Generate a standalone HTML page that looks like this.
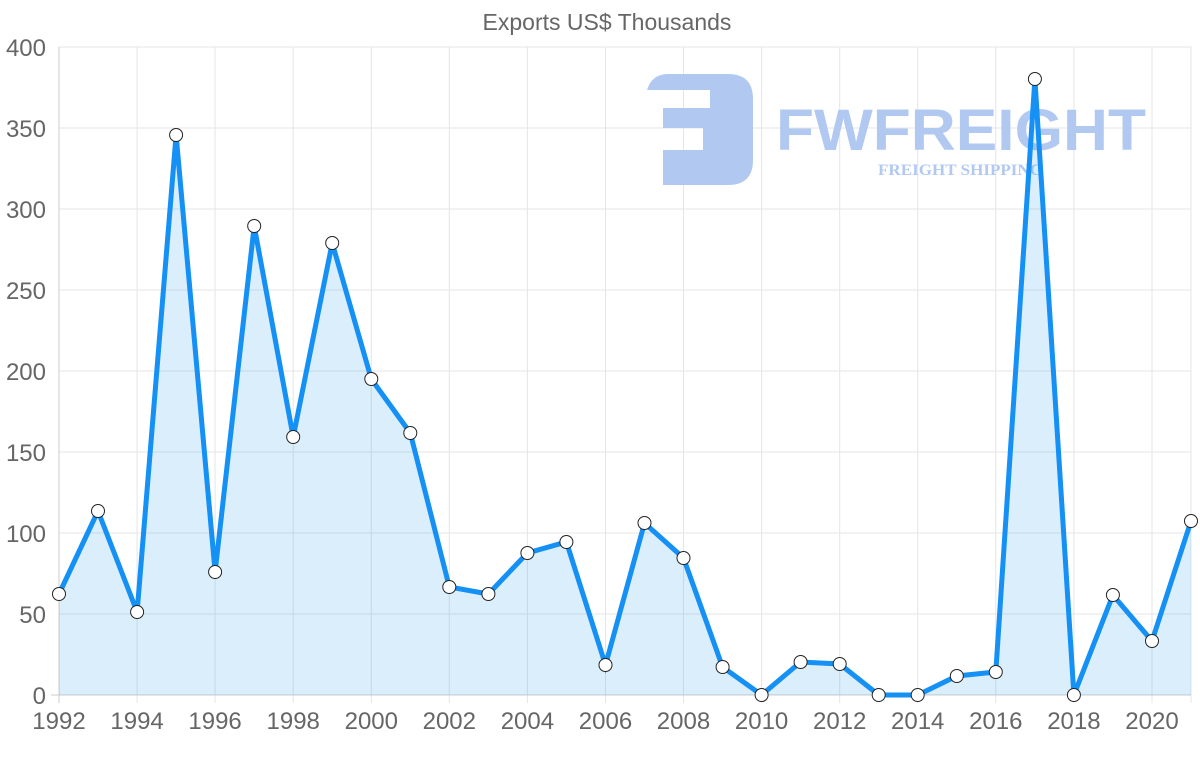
<!DOCTYPE html>
<html><head><meta charset="utf-8"><style>
html,body{margin:0;padding:0;background:#fff;}
svg{display:block;font-family:"Liberation Sans",sans-serif;}
</style></head><body>
<svg width="1200" height="763" viewBox="0 0 1200 763">
<text x="607" y="30" text-anchor="middle" font-size="23" fill="#666">Exports US$ Thousands</text>
<g stroke="#e5e5e5" stroke-width="1">
<line x1="59" y1="47" x2="1191" y2="47"/><line x1="59" y1="128" x2="1191" y2="128"/><line x1="59" y1="209" x2="1191" y2="209"/><line x1="59" y1="290" x2="1191" y2="290"/><line x1="59" y1="371" x2="1191" y2="371"/><line x1="59" y1="452" x2="1191" y2="452"/><line x1="59" y1="533" x2="1191" y2="533"/><line x1="59" y1="614" x2="1191" y2="614"/>
<line x1="137.1" y1="47" x2="137.1" y2="703"/><line x1="215.1" y1="47" x2="215.1" y2="703"/><line x1="293.2" y1="47" x2="293.2" y2="703"/><line x1="371.3" y1="47" x2="371.3" y2="703"/><line x1="449.3" y1="47" x2="449.3" y2="703"/><line x1="527.4" y1="47" x2="527.4" y2="703"/><line x1="605.5" y1="47" x2="605.5" y2="703"/><line x1="683.5" y1="47" x2="683.5" y2="703"/><line x1="761.6" y1="47" x2="761.6" y2="703"/><line x1="839.7" y1="47" x2="839.7" y2="703"/><line x1="917.7" y1="47" x2="917.7" y2="703"/><line x1="995.8" y1="47" x2="995.8" y2="703"/><line x1="1073.9" y1="47" x2="1073.9" y2="703"/><line x1="1152" y1="47" x2="1152" y2="703"/><line x1="1191" y1="47" x2="1191" y2="703"/>
</g>
<g stroke="#ccc"><line x1="59" y1="47" x2="59" y2="703"/><line x1="51" y1="695" x2="1191" y2="695"/></g>
<g fill="#b1c9f1">
<path d="M647 90 Q652 74 668 74 L728 74 Q753 74 753 99 L753 160 Q753 185 728 185 L663 185 L663 150 L703 150 L703 128 L663 128 L663 108 L710 108 L710 90 Z"/>
<text x="776" y="150" font-size="58" font-weight="bold" textLength="370" lengthAdjust="spacingAndGlyphs">FWFREIGHT</text>
<text x="878" y="175" font-size="16" font-weight="bold" font-family="Liberation Serif,serif" textLength="165" lengthAdjust="spacingAndGlyphs">FREIGHT SHIPPING</text>
</g>
<g font-size="24" fill="#666" text-anchor="end">
<text x="46" y="56">400</text><text x="46" y="137">350</text><text x="46" y="218">300</text><text x="46" y="299">250</text><text x="46" y="380">200</text><text x="46" y="461">150</text><text x="46" y="542">100</text><text x="46" y="623">50</text><text x="46" y="704">0</text>
</g>
<g font-size="24" fill="#666" text-anchor="middle">
<text x="59" y="729">1992</text><text x="137.1" y="729">1994</text><text x="215.1" y="729">1996</text><text x="293.2" y="729">1998</text><text x="371.3" y="729">2000</text><text x="449.3" y="729">2002</text><text x="527.4" y="729">2004</text><text x="605.5" y="729">2006</text><text x="683.5" y="729">2008</text><text x="761.6" y="729">2010</text><text x="839.7" y="729">2012</text><text x="917.7" y="729">2014</text><text x="995.8" y="729">2016</text><text x="1073.9" y="729">2018</text><text x="1152" y="729">2020</text>
</g>
<polygon fill="rgba(54,162,235,0.18)" points="59,695 59,594 98,511 137.1,612 176.1,135 215.1,572 254.2,226 293.2,437 332.2,243 371.3,379 410.3,433 449.3,587 488.4,594 527.4,553 566.4,542 605.5,665 644.5,523 683.5,558 722.6,667 761.6,695 800.6,662 839.7,664 878.7,695 917.7,695 956.8,676 995.8,672 1034.9,79 1073.9,695 1112.9,595 1152,641 1191,521 1191,695"/>
<polyline fill="none" stroke="#1590f5" stroke-width="5" points="59,594 98,511 137.1,612 176.1,135 215.1,572 254.2,226 293.2,437 332.2,243 371.3,379 410.3,433 449.3,587 488.4,594 527.4,553 566.4,542 605.5,665 644.5,523 683.5,558 722.6,667 761.6,695 800.6,662 839.7,664 878.7,695 917.7,695 956.8,676 995.8,672 1034.9,79 1073.9,695 1112.9,595 1152,641 1191,521"/>
<g fill="#fff" stroke="#222" stroke-width="1">
<circle cx="59" cy="594" r="6.5"/><circle cx="98" cy="511" r="6.5"/><circle cx="137.1" cy="612" r="6.5"/><circle cx="176.1" cy="135" r="6.5"/><circle cx="215.1" cy="572" r="6.5"/><circle cx="254.2" cy="226" r="6.5"/><circle cx="293.2" cy="437" r="6.5"/><circle cx="332.2" cy="243" r="6.5"/><circle cx="371.3" cy="379" r="6.5"/><circle cx="410.3" cy="433" r="6.5"/><circle cx="449.3" cy="587" r="6.5"/><circle cx="488.4" cy="594" r="6.5"/><circle cx="527.4" cy="553" r="6.5"/><circle cx="566.4" cy="542" r="6.5"/><circle cx="605.5" cy="665" r="6.5"/><circle cx="644.5" cy="523" r="6.5"/><circle cx="683.5" cy="558" r="6.5"/><circle cx="722.6" cy="667" r="6.5"/><circle cx="761.6" cy="695" r="6.5"/><circle cx="800.6" cy="662" r="6.5"/><circle cx="839.7" cy="664" r="6.5"/><circle cx="878.7" cy="695" r="6.5"/><circle cx="917.7" cy="695" r="6.5"/><circle cx="956.8" cy="676" r="6.5"/><circle cx="995.8" cy="672" r="6.5"/><circle cx="1034.9" cy="79" r="6.5"/><circle cx="1073.9" cy="695" r="6.5"/><circle cx="1112.9" cy="595" r="6.5"/><circle cx="1152" cy="641" r="6.5"/><circle cx="1191" cy="521" r="6.5"/>
</g>
</svg>
</body></html>
